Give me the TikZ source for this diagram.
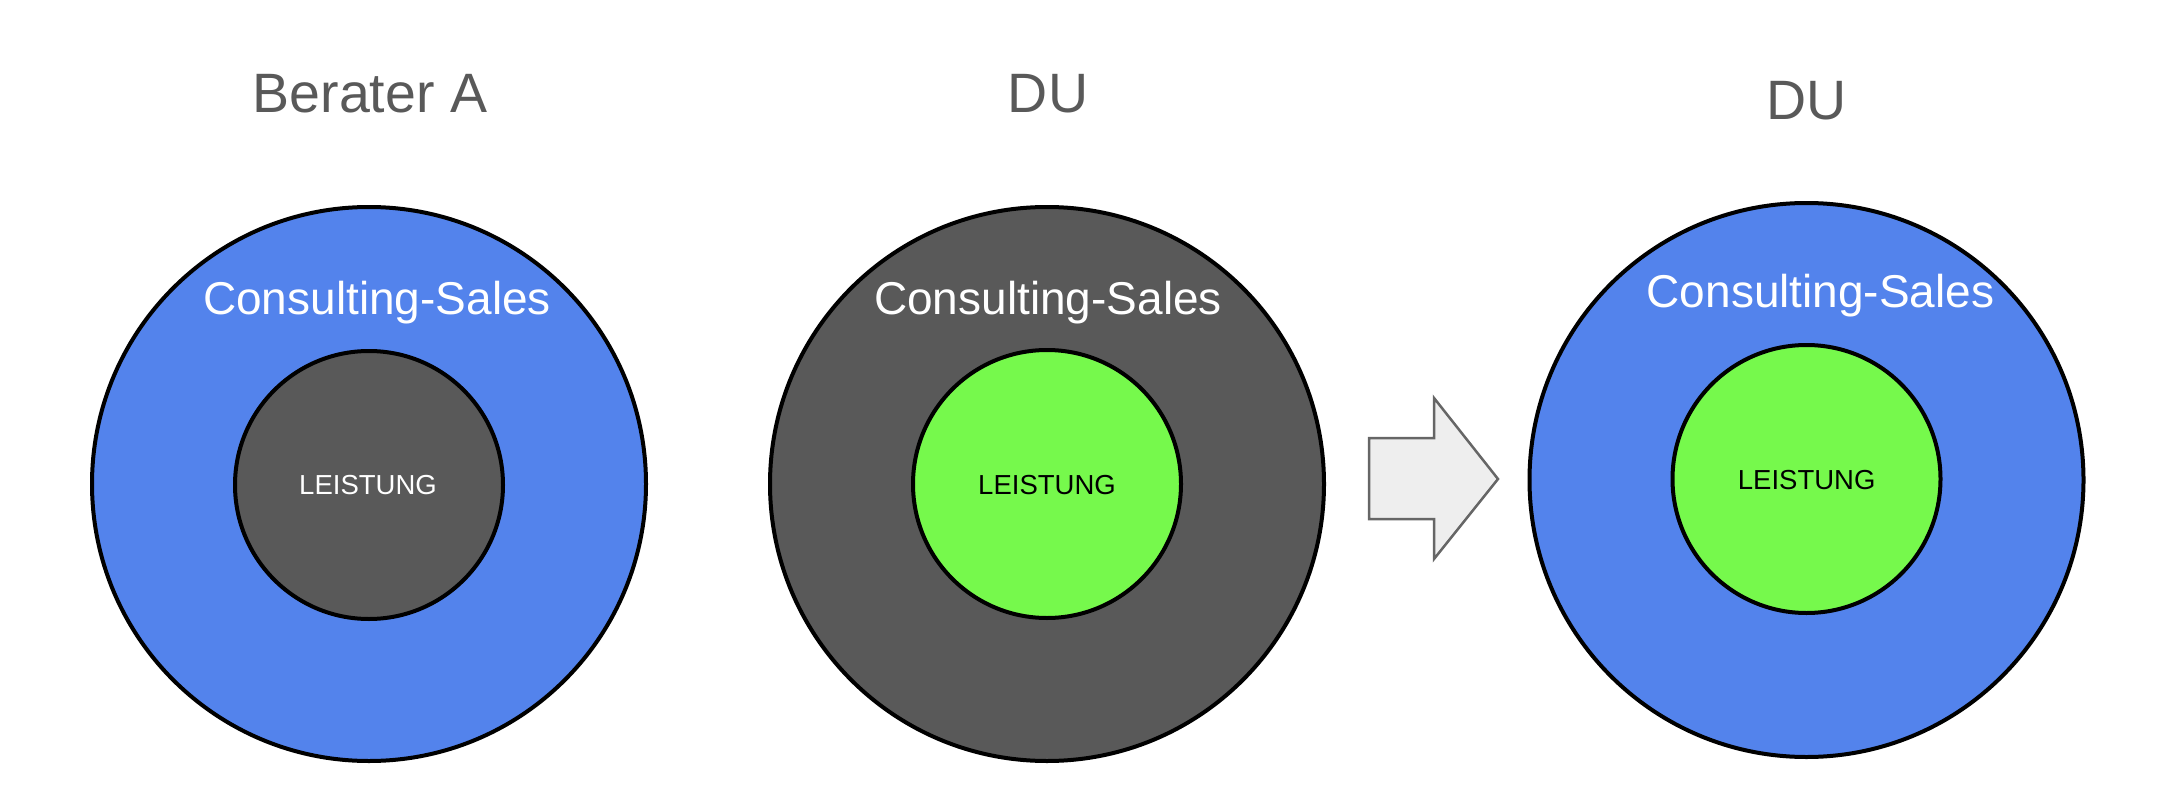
\documentclass[tikz,border=0pt]{standalone}
\usepackage{fontspec}
\setmainfont{Liberation Sans}
\definecolor{csblue}{HTML}{5383EC}
\definecolor{dgray}{HTML}{595959}
\definecolor{lgreen}{HTML}{76F94C}
\definecolor{arrfill}{HTML}{EEEEEE}
\definecolor{arrdraw}{HTML}{666666}
\tikzset{
  outerc/.style={circle, draw=black, line width=4pt, minimum size=554pt, inner sep=0pt},
  innerc/.style={circle, draw=black, line width=4pt, minimum size=268pt, inner sep=0pt},
  titletext/.style={anchor=base, text=dgray, inner sep=0pt, font=\fontsize{55.5}{60}\selectfont},
  cstext/.style={anchor=base, text=white, inner sep=0pt, font=\fontsize{46}{50}\selectfont},
  ltext/.style={anchor=base, inner sep=0pt, font=\fontsize{27.5}{30}\selectfont},
}
\begin{document}
\begin{tikzpicture}[x=1pt,y=-1pt]
\useasboundingbox (0,0) rectangle (2164,808);
% titles
\node[titletext] (t1) at (370,113) {Berater A};
\node[titletext] (t2) at (1048,113) {DU};
\node[titletext] (t3) at (1806.5,119) {DU};
% circle group 1
\node[outerc, fill=csblue] (o1) at (369,484) {};
\node[innerc, fill=dgray] (i1) at (369,485) {};
\node[cstext] (c1) at (377,314) {Consulting-Sales};
\node[ltext, text=white] (l1) at (368,494.3) {LEISTUNG};
% circle group 2
\node[outerc, fill=dgray] (o2) at (1047,484) {};
\node[innerc, fill=lgreen] (i2) at (1047,484) {};
\node[cstext] (c2) at (1048,314) {Consulting-Sales};
\node[ltext, text=black] (l2) at (1047,494.3) {LEISTUNG};
% circle group 3
\node[outerc, fill=csblue] (o3) at (1806.5,480) {};
\node[innerc, fill=lgreen] (i3) at (1806.5,479) {};
\node[cstext] (c3) at (1820.5,307.3) {Consulting-Sales};
\node[ltext, text=black] (l3) at (1806.7,489.3) {LEISTUNG};
% arrow
\draw[fill=arrfill, draw=arrdraw, line width=2.5pt, line join=miter]
  (1369,438) -- (1434,438) -- (1434,398) -- (1498,479) -- (1434,559) -- (1434,519) -- (1369,519) -- cycle;
\end{tikzpicture}
\end{document}
